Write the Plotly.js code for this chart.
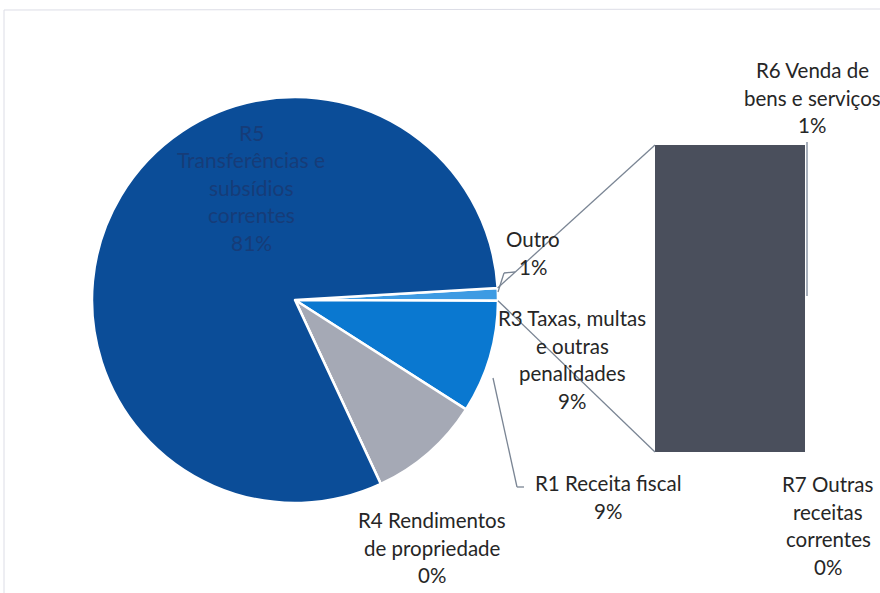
<!DOCTYPE html>
<html><head><meta charset="utf-8">
<script src="https://cdn.plot.ly/plotly-3.0.1.min.js"></script>
<style>body{margin:0;background:#fff}#chart{width:880px;height:593px}</style>
</head><body><div id="chart"></div>
<script>
// ---- data ----
var pieLabels = ["Outro", "R1 Receita fiscal", "R3 Taxas, multas e outras penalidades", "R4 Rendimentos de propriedade", "R5 Transferências e subsídios correntes"];
var pieValues = [1, 9, 9, 0, 81];
var pieTexts = [["Outro", "1%"], ["R1 Receita fiscal", "9%"], ["R3 Taxas, multas", "e outras", "penalidades", "9%"], ["R4 Rendimentos", "de propriedade", "0%"], ["R5", "Transferências e", "subsídios", "correntes", "81%"]];
var barLabels = ["R6 Venda de bens e serviços", "R7 Outras receitas correntes"];
var barValues = [1, 0];
var barTexts = [["R6 Venda de", "bens e serviços", "1%"], ["R7 Outras", "receitas", "correntes", "0%"]];

// ---- layout helpers ----
var W = 880, H = 593;
function px(x){return x / W;}
function py(y){return 1 - y / H;}
var pieCx = 295, pieCy = 300, pieR = 203;
var rotation = 86.6;
var pieColors = ["#3d9be3", "#0a78d0", "#a5a9b5", "#8fa0b8", "#0b4d98"];
var barColor = "#4a4f5c";
var barX0 = 655, barX1 = 805, barY0 = 145, barY1 = 452;

var annotations = [];
function addLabel(lines, cx, topY, color, size) {
  var step = 27.6;
  lines.forEach(function(t, i){
    annotations.push({xref:'paper', yref:'paper', x:px(cx), y:py(topY + i*step),
      text:t, showarrow:false, xanchor:'center', yanchor:'middle',
      font:{family:'Lato, "Open Sans", sans-serif', size:size || 20.5, color:color || '#262626'}});
  });
}
addLabel(pieTexts[4], 251, 132, '#163c78', 21);
addLabel(pieTexts[0], 533, 239);
addLabel(pieTexts[2], 572, 318);
addLabel(pieTexts[1], 608, 483);
addLabel(pieTexts[3], 432, 520);
addLabel(barTexts[0], 812, 70);
addLabel(barTexts[1], 828, 484);

// outro slice edge points
var total = pieValues.reduce(function(a,b){return a+b;},0);
var a0 = rotation * Math.PI/180;
var a1 = (rotation + 360*pieValues[0]/total) * Math.PI/180;
function edge(a){return [pieCx + pieR*Math.sin(a), pieCy - pieR*Math.cos(a)];}
var e0 = edge(a0), e1 = edge(a1);
var lineCol = '#7a8594';
function seg(x0,y0,x1,y1,col,w){return {type:'line', xref:'paper', yref:'paper', x0:px(x0), y0:py(y0), x1:px(x1), y1:py(y1), line:{color:col||lineCol, width:w||1.3}};}
var shapes = [
  seg(e0[0], e0[1], barX0, barY0),
  seg(e1[0], e1[1], barX0, barY1),
  // leader lines
  seg(498, 292, 504, 273), seg(504, 273, 515, 272),
  seg(493, 378, 517, 487), seg(517, 487, 524, 487),
  seg(807, 142, 807, 296, '#8b96a6', 1.5),
  // frame
  seg(4, 10, 880, 9, '#dcdde6', 1), seg(4, 10, 4, 593, '#dcdde6', 1)
];

var data = [
  {type:'pie', labels:pieLabels, values:pieValues, sort:false, direction:'clockwise', rotation:rotation,
   marker:{colors:pieColors, line:{color:'#ffffff', width:2.5}}, textinfo:'none', hoverinfo:'label+percent',
   domain:{x:[px(pieCx-pieR), px(pieCx+pieR)], y:[py(pieCy+pieR), py(pieCy-pieR)]}, showlegend:false},
  {type:'bar', x:['bar'], y:[barValues[1]], name:barLabels[1], marker:{color:barColor, line:{width:0}}, xaxis:'x', yaxis:'y', showlegend:false},
  {type:'bar', x:['bar'], y:[barValues[0]], name:barLabels[0], marker:{color:barColor, line:{width:0}}, xaxis:'x', yaxis:'y', showlegend:false}
];
var layout = {
  width:W, height:H, margin:{l:0,r:0,t:0,b:0}, paper_bgcolor:'#ffffff', plot_bgcolor:'rgba(0,0,0,0)',
  barmode:'stack', bargap:0,
  xaxis:{domain:[px(barX0), px(barX1)], visible:false, fixedrange:true},
  yaxis:{domain:[py(barY1), py(barY0)], range:[0, barValues[0]+barValues[1]], visible:false, fixedrange:true},
  annotations:annotations, shapes:shapes, showlegend:false
};
Plotly.newPlot('chart', data, layout, {displayModeBar:false, staticPlot:true});
</script></body></html>
